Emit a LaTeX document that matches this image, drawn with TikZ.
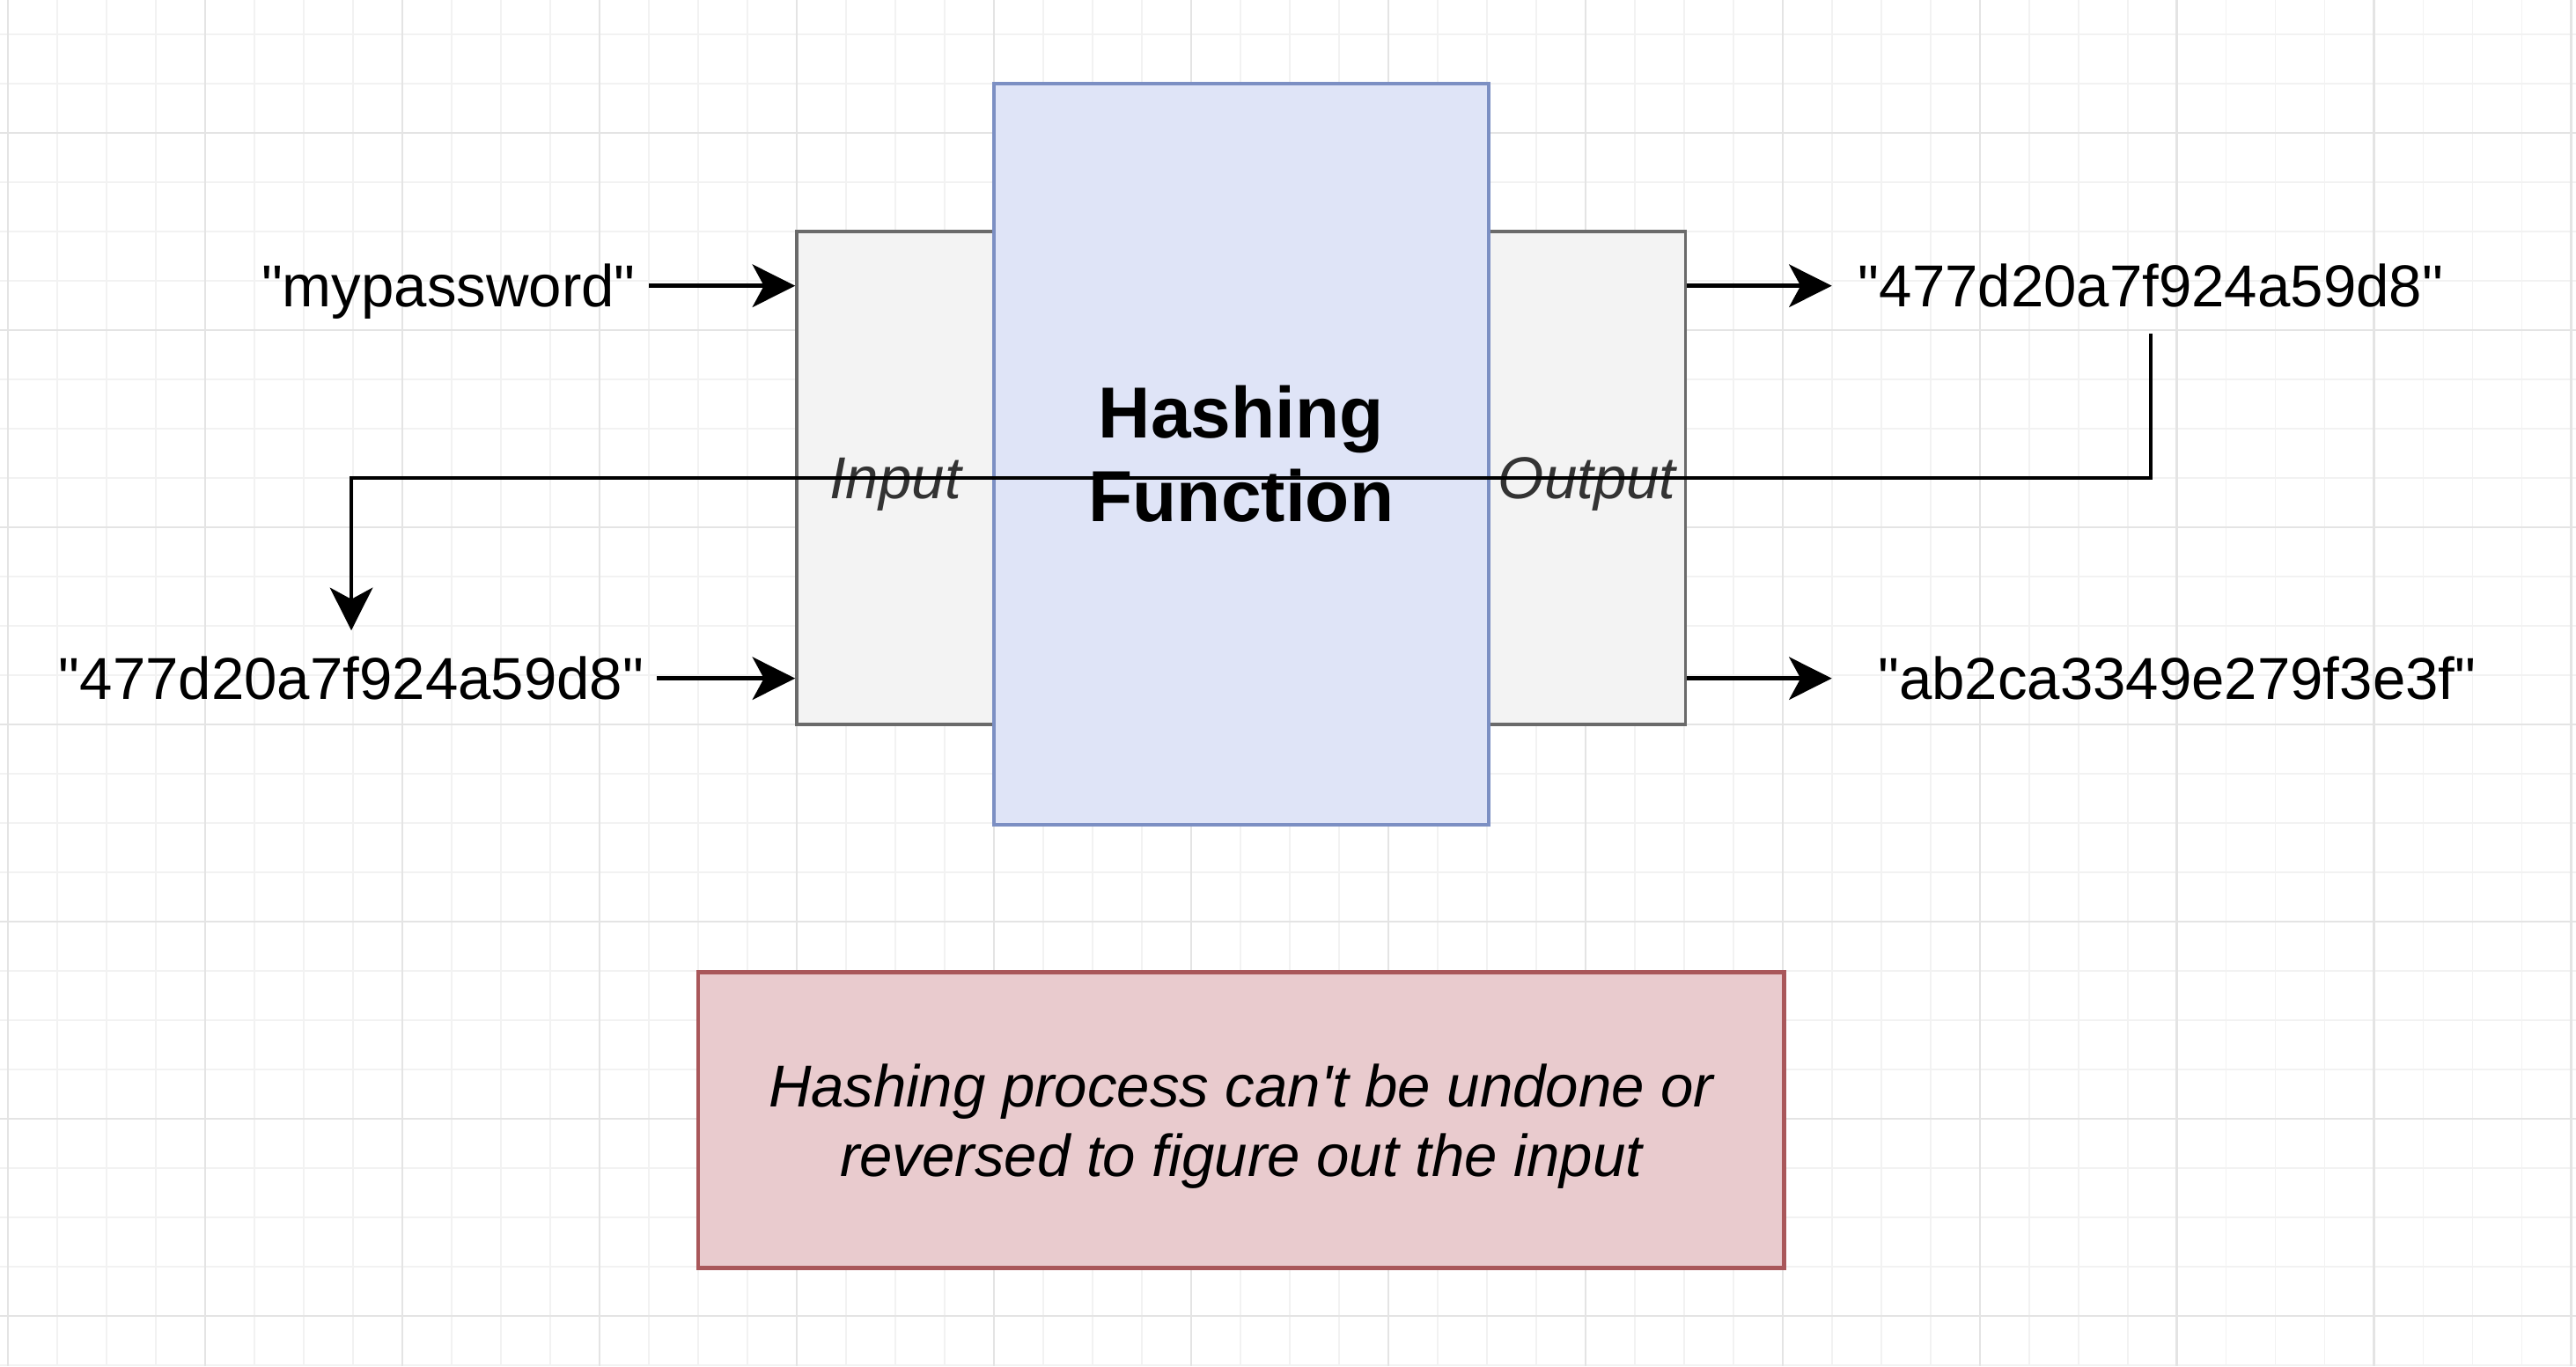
\documentclass[tikz,border=0pt]{standalone}
\usepackage{fontspec}
\setmainfont{Liberation Sans}[Ligatures=TeXOff]
\usepackage{xcolor}
\usepackage{tikz}
\usetikzlibrary{arrows.meta}
\usetikzlibrary{positioning}
\definecolor{gridminor}{HTML}{F2F2F2}
\definecolor{gridmajor}{HTML}{E4E4E4}
\definecolor{sidefill}{HTML}{F3F3F3}
\definecolor{sideline}{HTML}{6A6A6A}
\definecolor{hashfill}{HTML}{DFE4F7}
\definecolor{hashline}{HTML}{7C8FC3}
\definecolor{notefill}{HTML}{E9CBCE}
\definecolor{noteline}{HTML}{A9575A}
\definecolor{sidetext}{HTML}{333333}
\tikzstyle{sidebox} = [rectangle, minimum width=120pt, minimum height=300pt, fill=sidefill, draw=sideline, line width=2pt, text=sidetext, text depth=0pt, font=\fontsize{36}{42}\selectfont\itshape]
\tikzstyle{hashbox} = [rectangle, minimum width=301pt, minimum height=451pt, fill=hashfill, draw=hashline, line width=2pt, align=center, font=\fontsize{44}{51}\selectfont\bfseries]
\tikzstyle{notebox} = [rectangle, minimum width=661pt, minimum height=180pt, fill=notefill, draw=noteline, line width=2.5pt, align=center, text depth=0pt, font=\fontsize{36}{42}\selectfont\itshape]
\tikzstyle{lbl} = [inner xsep=8pt, inner ysep=16pt, text height=26pt, text depth=0pt, font=\fontsize{36}{42}\selectfont]
\tikzstyle{arrow} = [line width=2.4pt, -{Stealth[length=26pt, width=26pt, inset=7pt]}, black]

\begin{document}
\begin{tikzpicture}[x=1pt, y=-1pt]
    \fill[white] (0,0) rectangle (1568,831.7);
    \useasboundingbox (0,0) rectangle (1568,831.7);
    % grid
    \foreach \gx in {5,35,...,1565} \draw[gridminor, line width=1pt] (\gx,0) -- (\gx,831.7);
    \foreach \gy in {21,51,...,831} \draw[gridminor, line width=1pt] (0,\gy) -- (1568,\gy);
    \foreach \gx in {5,125,...,1565} \draw[gridmajor, line width=1.2pt] (\gx,0) -- (\gx,831.7);
    \foreach \gy in {81,201,...,801} \draw[gridmajor, line width=1.2pt] (0,\gy) -- (1568,\gy);

    \node (inbox) [sidebox] at (545,291) {Input};
    \node (outbox) [sidebox] at (966,291) {Output};
    \node (hash) [hashbox] at (755.5,276.5) {Hashing\\Function};
    \node (note) [notebox] at (755.5,682) {Hashing process can't be undone or\\reversed to figure out the input};

    \node (pwd) [lbl, anchor=east] at (395,174) {"mypassword"};
    \node (hashIn) [lbl, anchor=east] at (400,413) {"477d20a7f924a59d8"};
    \node (hashOut) [lbl, anchor=west] at (1123,174) {"477d20a7f924a59d8"};
    \node (otherOut) [lbl, anchor=west] at (1135,413) {"ab2ca3349e279f3e3f"};

    \draw [arrow] (pwd.east) -- (pwd.east -| inbox.west);
    \draw [arrow] (hashIn.east) -- (hashIn.east -| inbox.west);
    \draw [arrow, shorten >=8pt] (outbox.east |- hashOut.west) -- (hashOut.west);
    \draw [arrow, shorten >=20pt] (outbox.east |- otherOut.west) -- (otherOut.west);
    \draw [arrow] (hashOut.south) |- (inbox.center) -| (hashIn.north);
\end{tikzpicture}
\end{document}
